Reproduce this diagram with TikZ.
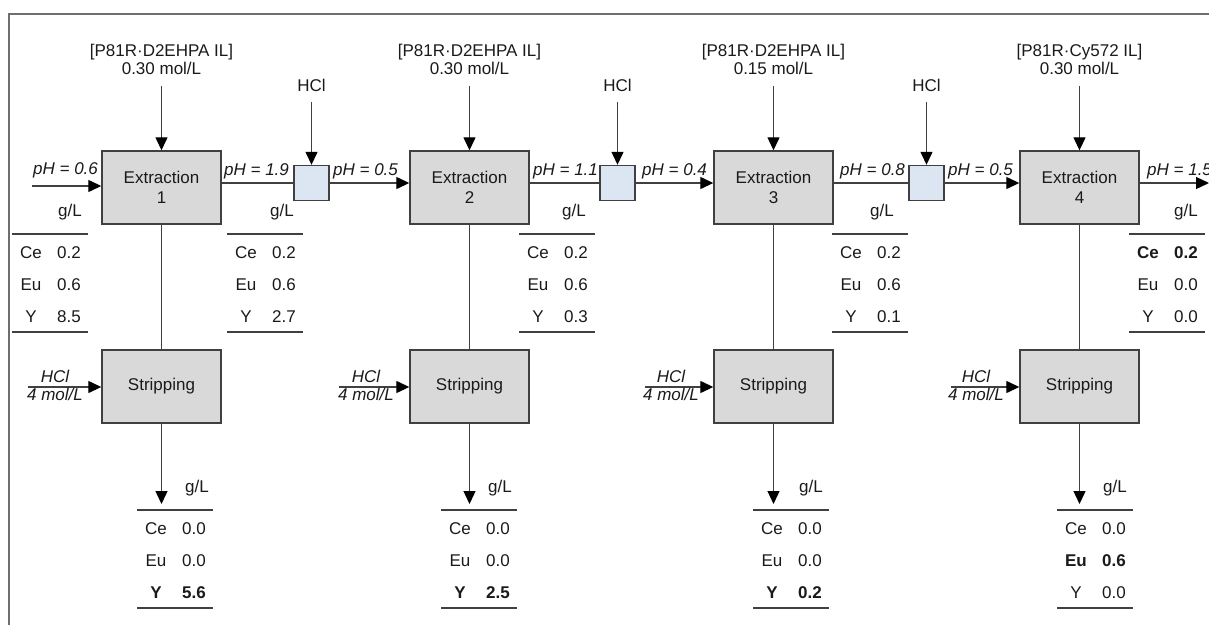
\documentclass[tikz,border=0pt]{standalone}
\usepackage{fontspec}
\setmainfont{Liberation Sans}
\usetikzlibrary{arrows.meta}
\definecolor{boxgray}{HTML}{D9D9D9}
\definecolor{boxblue}{HTML}{DCE6F2}
\definecolor{linec}{HTML}{404040}
\definecolor{framec}{HTML}{6E6E6E}
\definecolor{textc}{HTML}{1A1A1A}
\newcommand\mytab[9]{%
  \draw[rule] (#2,#3) -- ({#2+76},#3);
  \node[txt] (#1ea) at ({#2+19},{#3+24}) {#4};
  \node[txt] (#1va) at ({#2+57},{#3+24}) {#5};
  \node[txt] (#1eb) at ({#2+19},{#3+56}) {#6};
  \node[txt] (#1vb) at ({#2+57},{#3+56}) {#7};
  \node[txt] (#1ec) at ({#2+19},{#3+88}) {#8};
  \node[txt] (#1vc) at ({#2+57},{#3+88}) {#9};
  \draw[rule] (#2,{#3+98}) -- ({#2+76},{#3+98});
}
\begin{document}
\begin{tikzpicture}[x=1pt,y=-1pt,
  font=\fontsize{17}{20}\selectfont,
  ext/.style={draw=linec, fill=boxgray, line width=1.4pt, minimum width=119pt, minimum height=73pt, inner sep=0pt, align=center, text=textc},
  mix/.style={draw=linec, fill=boxblue, line width=1.4pt, minimum width=35pt, minimum height=35pt, inner sep=0pt},
  conn/.style={draw=linec, line width=1.3pt},
  arr/.style={conn, -{Triangle[length=13pt,width=12pt,color=black]}},
  rule/.style={draw=linec, line width=1.3pt},
  txt/.style={anchor=base, inner sep=0pt, text=textc},
  phl/.style={anchor=base west, inner sep=0pt, text=textc, font=\fontsize{17}{20}\selectfont\itshape},
  itx/.style={anchor=base, inner sep=0pt, text=textc, font=\fontsize{17}{20}\selectfont\itshape},
]
\useasboundingbox (0,0) rectangle (1209,624);
\clip (0,0) rectangle (1209,624);
% frame
\draw[framec, line width=2pt] (9,630) -- (9,14) -- (1215,14);

% extraction boxes
\node[ext] (e1) at (161.5,187.5) {Extraction\\1};
\node[ext] (e2) at (469.5,187.5) {Extraction\\2};
\node[ext] (e3) at (773.5,187.5) {Extraction\\3};
\node[ext] (e4) at (1079.5,187.5) {Extraction\\4};
% stripping boxes
\node[ext] (s1) at (161.5,386.5) {Stripping};
\node[ext] (s2) at (469.5,386.5) {Stripping};
\node[ext] (s3) at (773.5,386.5) {Stripping};
\node[ext] (s4) at (1079.5,386.5) {Stripping};
% mixers
\node[mix] (b1) at (311.5,183) {};
\node[mix] (b2) at (617.5,183) {};
\node[mix] (b3) at (926.5,183) {};

% reagent labels
\node[txt] (r1a) at (161.5,56) {[P81R·D2EHPA IL]};
\node[txt] (r1b) at (161.5,74.5) {0.30 mol/L};
\node[txt] (r2a) at (469.5,56) {[P81R·D2EHPA IL]};
\node[txt] (r2b) at (469.5,74.5) {0.30 mol/L};
\node[txt] (r3a) at (773.5,56) {[P81R·D2EHPA IL]};
\node[txt] (r3b) at (773.5,74.5) {0.15 mol/L};
\node[txt] (r4a) at (1079.5,56) {[P81R·Cy572 IL]};
\node[txt] (r4b) at (1079.5,74.5) {0.30 mol/L};
\coordinate (r1s) at (161.5,86);
\coordinate (r2s) at (469.5,86);
\coordinate (r3s) at (773.5,86);
\coordinate (r4s) at (1079.5,86);
\draw[arr] (r1s) -- (e1);
\draw[arr] (r2s) -- (e2);
\draw[arr] (r3s) -- (e3);
\draw[arr] (r4s) -- (e4);

% HCl to mixers
\node[txt] (h1) at (311.5,91) {HCl};
\node[txt] (h2) at (617.5,91) {HCl};
\node[txt] (h3) at (926.5,91) {HCl};
\coordinate (h1s) at (311.5,102);
\coordinate (h2s) at (617.5,102);
\coordinate (h3s) at (926.5,102);
\draw[arr] (h1s) -- (b1);
\draw[arr] (h2s) -- (b2);
\draw[arr] (h3s) -- (b3);

% aqueous flow
\coordinate (f0) at (32,186);
\coordinate (fout) at (1209,183);
\draw[arr] (f0) -- (f0 -| e1.west);
\draw[conn] (e1.east |- b1) -- (b1.west);
\draw[arr] (b1.east) -- (b1 -| e2.west);
\draw[conn] (e2.east |- b2) -- (b2.west);
\draw[arr] (b2.east) -- (b2 -| e3.west);
\draw[conn] (e3.east |- b3) -- (b3.west);
\draw[arr] (b3.east) -- (b3 -| e4.west);
\draw[arr] (e4.east |- fout) -- (fout);

% pH labels
\node[phl] (p0) at (33,174) {pH = 0.6};
\node[phl] (p1) at (224,175) {pH = 1.9};
\node[phl] (p2) at (333,175) {pH = 0.5};
\node[phl] (p3) at (533,175) {pH = 1.1};
\node[phl] (p4) at (642,175) {pH = 0.4};
\node[phl] (p5) at (840,175) {pH = 0.8};
\node[phl] (p6) at (948,175) {pH = 0.5};
\node[phl] (p7) at (1147,175) {pH = 1.5};

% extraction to stripping
\draw[conn] (e1) -- (s1);
\draw[conn] (e2) -- (s2);
\draw[conn] (e3) -- (s3);
\draw[conn] (e4) -- (s4);

% stripping HCl inputs
\coordinate (i1) at (28,387);
\coordinate (i2) at (339,387);
\coordinate (i3) at (645,387);
\coordinate (i4) at (951,387);
\draw[arr] (i1) -- (i1 -| s1.west);
\draw[arr] (i2) -- (i2 -| s2.west);
\draw[arr] (i3) -- (i3 -| s3.west);
\draw[arr] (i4) -- (i4 -| s4.west);
\node[itx] (q1a) at (55,382) {HCl};
\node[itx] (q1b) at (55,400) {4 mol/L};
\node[itx] (q2a) at (366,382) {HCl};
\node[itx] (q2b) at (366,400) {4 mol/L};
\node[itx] (q3a) at (671,382) {HCl};
\node[itx] (q3b) at (671,400) {4 mol/L};
\node[itx] (q4a) at (976,382) {HCl};
\node[itx] (q4b) at (976,400) {4 mol/L};

% stripping outputs
\coordinate (o1) at (161.5,504);
\coordinate (o2) at (469.5,504);
\coordinate (o3) at (773.5,504);
\coordinate (o4) at (1079.5,504);
\draw[arr] (s1) -- (o1);
\draw[arr] (s2) -- (o2);
\draw[arr] (s3) -- (o3);
\draw[arr] (s4) -- (o4);

% upper tables
\node[txt] (ga) at (70,216) {g/L};
\node[txt] (gb) at (282,216) {g/L};
\node[txt] (gc) at (574,216) {g/L};
\node[txt] (gd) at (882,216) {g/L};
\node[txt] (ge) at (1186,216) {g/L};
\mytab{ta}{12}{234}{Ce}{0.2}{Eu}{0.6}{Y}{8.5}
\mytab{tb}{227}{234}{Ce}{0.2}{Eu}{0.6}{Y}{2.7}
\mytab{tc}{519}{234}{Ce}{0.2}{Eu}{0.6}{Y}{0.3}
\mytab{td}{832}{234}{Ce}{0.2}{Eu}{0.6}{Y}{0.1}
\mytab{te}{1129}{234}{\textbf{Ce}}{\textbf{0.2}}{Eu}{0.0}{Y}{0.0}

% lower tables
\node[txt] (gf) at (197,492) {g/L};
\node[txt] (gg) at (500,492) {g/L};
\node[txt] (gh) at (811,492) {g/L};
\node[txt] (gi) at (1115,492) {g/L};
\mytab{tf}{137}{510}{Ce}{0.0}{Eu}{0.0}{\textbf{Y}}{\textbf{5.6}}
\mytab{tg}{441}{510}{Ce}{0.0}{Eu}{0.0}{\textbf{Y}}{\textbf{2.5}}
\mytab{th}{753}{510}{Ce}{0.0}{Eu}{0.0}{\textbf{Y}}{\textbf{0.2}}
\mytab{ti}{1057}{510}{Ce}{0.0}{\textbf{Eu}}{\textbf{0.6}}{Y}{0.0}
\end{tikzpicture}
\end{document}
